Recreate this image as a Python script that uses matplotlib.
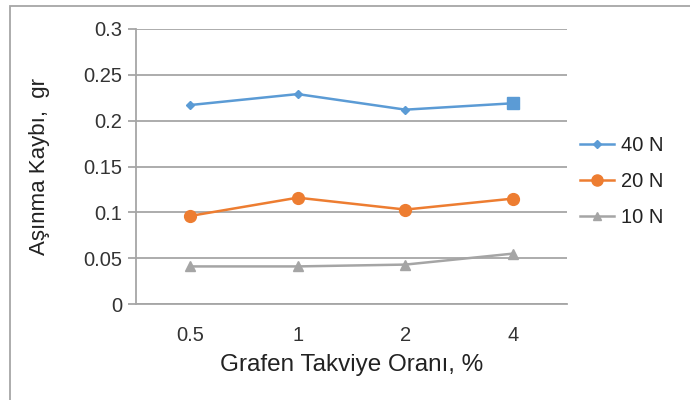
import matplotlib.pyplot as plt
from matplotlib.lines import Line2D
from matplotlib.patches import Rectangle

plt.rcParams['font.family'] = ['Liberation Sans', 'DejaVu Sans']

# Veriler
oranlar = ["0.5", "1", "2", "4"]
kayip_40N = [0.217, 0.229, 0.212, 0.219]
kayip_20N = [0.096, 0.116, 0.103, 0.115]
kayip_10N = [0.041, 0.041, 0.043, 0.055]

mavi = "#5B9BD5"
turuncu = "#ED7D31"
gri = "#A5A5A5"

fig = plt.figure(figsize=(6.9, 4.0), dpi=100)
ax = fig.add_axes([0.197, 0.24, 0.625, 0.6875])

x = range(len(oranlar))
ax.plot(x, kayip_40N, color=mavi, lw=1.8, marker="D", ms=4.5, zorder=3)
# son nokta kare işaretli
ax.plot([x[-1]], [kayip_40N[-1]], color=mavi, marker="s", ms=8.5, ls="none", zorder=4)
ax.plot(x, kayip_20N, color=turuncu, lw=1.8, marker="o", ms=8.5, zorder=3)
ax.plot(x, kayip_10N, color=gri, lw=1.8, marker="^", ms=6.5, zorder=3)

ax.set_xlim(-0.5, len(oranlar) - 0.5)
ax.set_ylim(0, 0.3)
ax.set_xticks(list(x))
ax.set_xticklabels(oranlar)
ax.set_yticks([0, 0.05, 0.1, 0.15, 0.2, 0.25, 0.3])
ax.set_yticklabels(["0", "0.05", "0.1", "0.15", "0.2", "0.25", "0.3"])

ax.grid(axis="y", color="#A6A6A6", lw=1.3)
ax.set_axisbelow(True)
for s in ["top", "right"]:
    ax.spines[s].set_visible(False)
ax.spines["left"].set_color("#A6A6A6")
ax.spines["bottom"].set_color("#A6A6A6")
ax.spines["left"].set_linewidth(1.3)
ax.spines["bottom"].set_linewidth(1.3)
ax.tick_params(axis="y", length=6, width=1.3, color="#A6A6A6", labelsize=14.5,
               labelcolor="#333333", pad=4)
ax.tick_params(axis="x", length=0, labelsize=14.5, labelcolor="#333333", pad=16)

ax.set_xlabel("Grafen Takviye Oranı, %", fontsize=17.5, color="#222222", labelpad=6)
ax.set_ylabel("Aşınma Kaybı,  gr", fontsize=16, color="#222222", labelpad=24)

# Lejant
handles = [
    Line2D([], [], color=mavi, lw=1.8, marker="D", ms=4.5),
    Line2D([], [], color=turuncu, lw=1.8, marker="o", ms=8),
    Line2D([], [], color=gri, lw=1.8, marker="^", ms=6),
]
fig.legend(handles, ["40 N", "20 N", "10 N"], loc="center left",
           bbox_to_anchor=(0.815, 0.547), frameon=False, fontsize=14.5,
           labelcolor="#222222", handlelength=1.65, handletextpad=0.35,
           labelspacing=0.85)

# Dış çerçeve
fig.patches.append(Rectangle((10 / 690, -0.05), 1.0, 1 - 6 / 400 + 0.05,
                             transform=fig.transFigure, fill=False,
                             edgecolor="#A6A6A6", lw=1.3))

fig.savefig("out.png", dpi=100)
